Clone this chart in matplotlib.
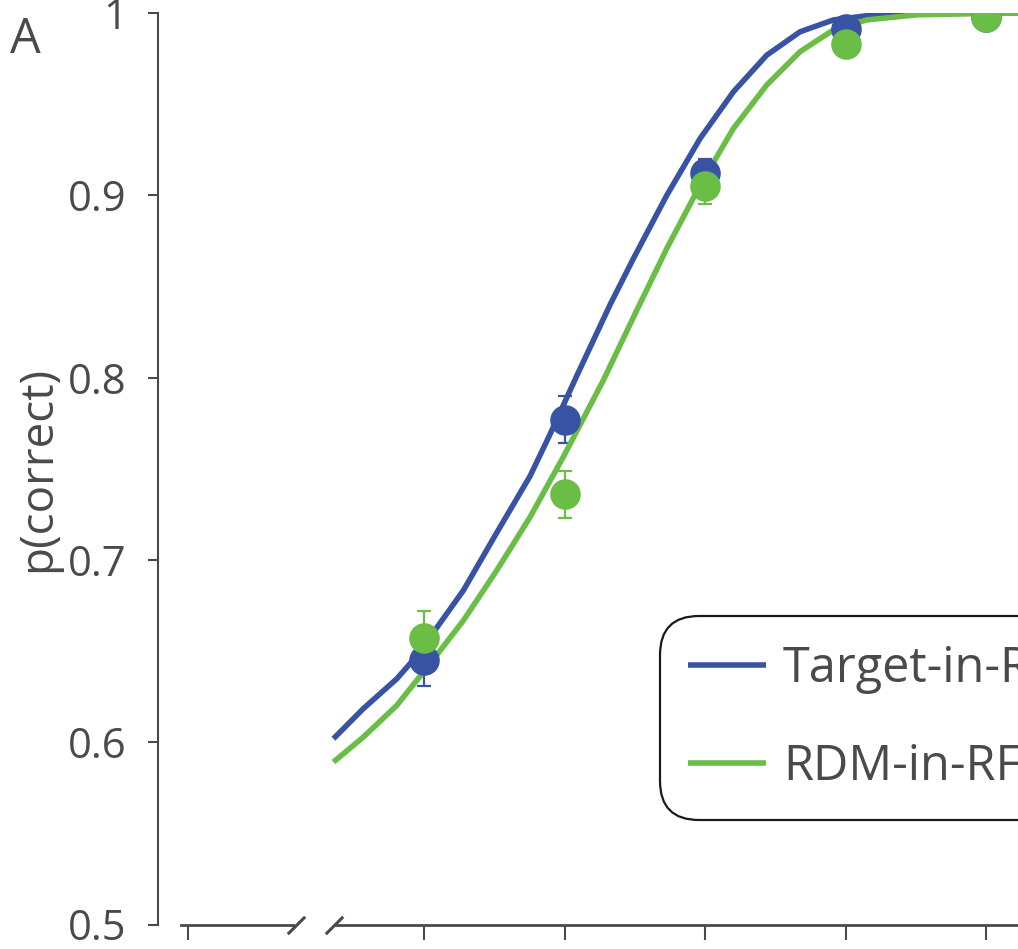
import matplotlib
matplotlib.use("Agg")
import matplotlib.pyplot as plt

plt.rcParams['font.family'] = ['Open Sans', 'DejaVu Sans']

# coherence levels (%), 1.0 stands in for the 0% point left of the axis break
coherence = [3.2, 6.4, 12.8, 25.6, 51.2]
xtick_pos = [1.0, 3.2, 6.4, 12.8, 25.6, 51.2]

target_p = [0.645, 0.777, 0.912, 0.991, 0.998]
target_err = [0.014, 0.013, 0.008, 0.003, 0.001]
rdm_p = [0.657, 0.736, 0.905, 0.983, 0.998]
rdm_err = [0.015, 0.013, 0.010, 0.003, 0.001]

# fitted curves
target_fit_x = [2.046, 2.371, 2.797, 2.986, 3.296, 3.885, 4.581, 5.398, 5.958,
                6.797, 8.01, 8.99, 10.6, 12.49, 14.72, 17.35, 20.45, 24.1,
                28.4, 36.4, 51.2, 70.0]
target_fit_p = [0.6019, 0.6184, 0.6348, 0.6431, 0.6577, 0.6833, 0.715, 0.746,
                0.769, 0.801, 0.840, 0.8654, 0.9001, 0.9312, 0.9568, 0.9769,
                0.9897, 0.9962, 0.9985, 0.9996, 0.9999, 1.0]
rdm_fit_x = [2.046, 2.371, 2.797, 3.296, 3.885, 4.581, 5.398, 6.36, 7.75, 9.14,
             10.6, 12.49, 14.72, 17.35, 20.45, 24.1, 28.4, 36.4, 51.2, 70.0]
rdm_fit_p = [0.5891, 0.6028, 0.6202, 0.6431, 0.6668, 0.6943, 0.7235, 0.7565,
             0.7986, 0.837, 0.8709, 0.9056, 0.9367, 0.9605, 0.9788, 0.9907,
             0.9962, 0.999, 0.9998, 1.0]

yticks = [0.5, 0.6, 0.7, 0.8, 0.9, 1.0]
ytick_labels = ['0.5', '0.6', '0.7', '0.8', '0.9', '1']

blue = '#3953a4'
green = '#6abd45'
grey = '#4a4a4a'

fig = plt.figure(figsize=(10.18, 9.49), dpi=100)
W, H = 1018, 949
ax = fig.add_axes([158 / W, (H - 924.5) / H, (1100 - 158) / W, 911.5 / H])

ax.set_xscale('log', base=2)
ax.set_xlim(0.861, 89.8)
ax.set_ylim(0.5, 1.0)

for p, err, fx, fp, col, lab in [
        (target_p, target_err, target_fit_x, target_fit_p, blue, 'Target-in-RF'),
        (rdm_p, rdm_err, rdm_fit_x, rdm_fit_p, green, 'RDM-in-RF')]:
    ax.plot(fx, fp, color=col, lw=4, label=lab, solid_capstyle='butt',
            solid_joinstyle='round')
    ax.errorbar(coherence, p, yerr=err, fmt='o', color=col, ms=21,
                elinewidth=1.6, capsize=5, capthick=1.6, mec=col)

# axes styling
for s in ['top', 'right', 'bottom']:
    ax.spines[s].set_visible(False)
ax.spines['left'].set_color(grey)
ax.spines['left'].set_linewidth(1.5)

ax.set_yticks(yticks)
ax.set_yticklabels(ytick_labels)
ax.tick_params(axis='y', direction='out', length=7.5, width=1.5, color=grey,
               labelcolor=grey, labelsize=30, pad=15)
ax.set_xticks(xtick_pos)
ax.set_xticklabels([''] * len(xtick_pos))
ax.minorticks_off()
ax.tick_params(axis='x', direction='out', length=11, width=1.5, color=grey)

# broken x axis line
xt = ax.get_xaxis_transform()
ax.plot([0.9645, 1.68], [0, 0], color=grey, lw=2, transform=xt, clip_on=False)
ax.plot([2.06, 89.8], [0, 0], color=grey, lw=2, transform=xt, clip_on=False)
ax.plot([1.70, 2.05], [0, 0], transform=xt, ls='none', marker=[(-1, -1), (1, 1)],
        ms=12.5, mew=2.2, mec=grey, clip_on=False)

ax.set_ylabel('p(correct)', fontsize=33, color=grey, labelpad=5)

fig.text(10 / W, 1 - 53 / H, 'A', fontsize=35, color=grey, va='baseline')

leg = ax.legend(loc='upper left', bbox_to_anchor=(660 / W, 1 - 616 / H),
                bbox_transform=fig.transFigure, borderaxespad=0, fontsize=35,
                handlelength=1.6, handletextpad=0.35, labelspacing=1.0,
                borderpad=0.58, frameon=True, fancybox=True)
frame = leg.get_frame()
frame.set_boxstyle('round,pad=0,rounding_size=0.8')
frame.set_edgecolor('#1a1a1a')
frame.set_linewidth(1.6)
frame.set_alpha(1)
for t in leg.get_texts():
    t.set_color(grey)
for l in leg.get_lines():
    l.set_linewidth(4)

fig.savefig('out.png', dpi=100)
